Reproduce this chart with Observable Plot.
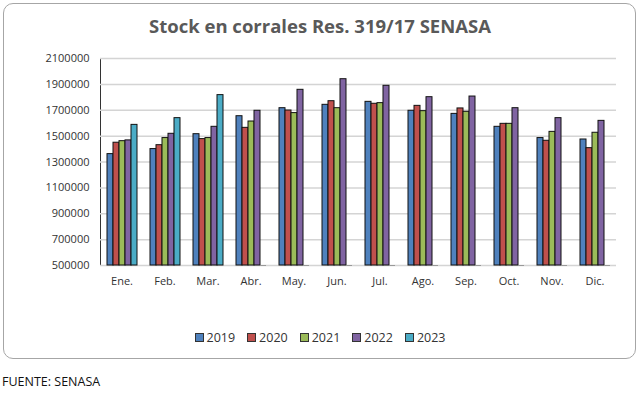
<!DOCTYPE html>
<html>
<head>
<meta charset="utf-8">
<script src="https://cdn.jsdelivr.net/npm/d3@7"></script>
<script src="https://cdn.jsdelivr.net/npm/@observablehq/plot@0.6"></script>
<style>
  body { margin: 0; background: #fff; }
  #wrap { position: relative; width: 640px; height: 393px; font-family: "Open Sans", sans-serif; }
  #box { position: absolute; left: 3px; top: 3px; width: 631px; height: 354px; border: 1.5px solid #a6a6a6; border-radius: 10px; }
  #title { position: absolute; left: 0; top: 13px; width: 640px; text-align: center; font-size: 18.5px; font-weight: 700; color: #595959; }
  #chart { position: absolute; left: 0; top: 0; }
  #legend { position: absolute; top: 329px; left: 0; width: 640px; display: flex; justify-content: center; gap: 12px; font-size: 12.5px; color: #333; }
  #legend span.item { display: inline-flex; align-items: center; gap: 3px; }
  #legend span.sw { width: 7px; height: 7px; border: 1px solid #333; display: inline-block; }
  #footer { position: absolute; left: 2px; top: 373px; font-size: 12.5px; color: #111; }
</style>
</head>
<body>
<div id="wrap">
  <div id="box"></div>
  <div id="chart"></div>
  <div id="title">Stock en corrales Res. 319/17 SENASA</div>
  <div id="legend"></div>
  <div id="footer">FUENTE: SENASA</div>
</div>
<script>
const months = ["Ene.", "Feb.", "Mar.", "Abr.", "May.", "Jun.", "Jul.", "Ago.", "Sep.", "Oct.", "Nov.", "Dic."];
const years = ["2019", "2020", "2021", "2022", "2023"];
const s2019 = [1361000, 1400000, 1515000, 1654000, 1716000, 1742000, 1765000, 1696000, 1672000, 1572000, 1485000, 1474000];
const s2020 = [1449000, 1430000, 1477000, 1564000, 1698000, 1770000, 1750000, 1734000, 1714000, 1595000, 1464000, 1407000];
const s2021 = [1461000, 1485000, 1485000, 1613000, 1678000, 1716000, 1755000, 1693000, 1688000, 1595000, 1533000, 1526000];
const s2022 = [1467000, 1518000, 1572000, 1696000, 1858000, 1940000, 1889000, 1801000, 1806000, 1716000, 1639000, 1618000];
const s2023 = [1587000, 1639000, 1817000, null, null, null, null, null, null, null, null, null];
const colors = ["#4F81BD", "#C0504D", "#9BBB59", "#8064A2", "#4BACC6"];
const yTicks = [500000, 700000, 900000, 1100000, 1300000, 1500000, 1700000, 1900000, 2100000];

const series = [s2019, s2020, s2021, s2022, s2023];
const data = months.flatMap((m, i) => years.map((y, j) => ({month: m, year: y, value: series[j][i]})));
const present = data.filter(d => d.value != null);
const missing = data.filter(d => d.value == null);

const chart = Plot.plot({
  width: 640,
  height: 290,
  marginTop: 58,
  marginBottom: 25,
  marginLeft: 95,
  marginRight: 19,
  style: {fontFamily: "Open Sans", fontSize: "11px", color: "#333", background: "transparent"},
  fx: {domain: months, padding: 0, label: null, axis: "bottom", tickSize: 0, tickPadding: 12},
  x: {domain: years, paddingInner: 0, paddingOuter: 0.7, axis: null},
  y: {domain: [yTicks[0], yTicks[yTicks.length - 1]], ticks: yTicks, tickFormat: d => String(d), label: null, tickSize: 0, tickPadding: 11, line: true},
  color: {domain: years, range: colors},
  marks: [
    Plot.gridY(yTicks, {stroke: "#d4d4d4", strokeOpacity: 1, strokeWidth: 1.5}),
    Plot.barY(present, {fx: "month", x: "year", y1: yTicks[0], y2: "value", fill: "year", stroke: "#111", strokeWidth: 1}),
    Plot.tickY(missing, {fx: "month", x: "year", y: () => yTicks[0], stroke: "#999", strokeWidth: 1})
  ]
});
document.getElementById("chart").appendChild(chart);

const legend = document.getElementById("legend");
years.forEach((y, i) => {
  const item = document.createElement("span");
  item.className = "item";
  const sw = document.createElement("span");
  sw.className = "sw";
  sw.style.background = colors[i];
  item.appendChild(sw);
  item.appendChild(document.createTextNode(y));
  legend.appendChild(item);
});
</script>
</body>
</html>
